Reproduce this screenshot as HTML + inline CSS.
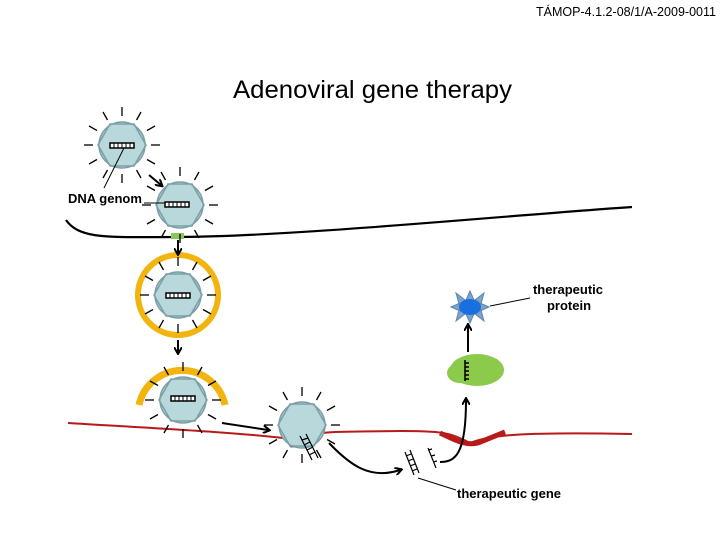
<!DOCTYPE html>
<html><head><meta charset="utf-8"><style>
body{margin:0;background:#fff}
svg{display:block}
text{font-family:"Liberation Sans",sans-serif}
</style></head><body>
<svg width="720" height="540" viewBox="0 0 720 540" xmlns="http://www.w3.org/2000/svg">
<defs>
<g id="v">
 <g stroke="#000" stroke-width="1.3">
  <line x1="0" y1="-29" x2="0" y2="-38"/><line x1="0" y1="29" x2="0" y2="38"/>
  <line x1="-29" y1="0" x2="-38" y2="0"/><line x1="29" y1="0" x2="38" y2="0"/>
  <line x1="14.5" y1="-25" x2="19" y2="-33"/><line x1="-14.5" y1="-25" x2="-19" y2="-33"/>
  <line x1="14.5" y1="25" x2="19" y2="33"/><line x1="-14.5" y1="25" x2="-19" y2="33"/>
  <line x1="25" y1="-14.5" x2="33" y2="-19"/><line x1="-25" y1="-14.5" x2="-33" y2="-19"/>
  <line x1="25" y1="14.5" x2="33" y2="19"/><line x1="-25" y1="14.5" x2="-33" y2="19"/>
 </g>
 <circle r="23" fill="#b8d8dc" stroke="#7a9fa6" stroke-width="1.5"/>
 <polygon points="-24,0 -12,-21 12,-21 24,0 12,21 -12,21" fill="#b8d8dc" fill-opacity="0.5" stroke="#7a9fa6" stroke-width="1.5"/>
</g>
<g id="d">
 <rect x="-12" y="-3" width="24" height="5" fill="#fff" stroke="#000" stroke-width="1.5"/>
 <g stroke="#000" stroke-width="1"><line x1="-8" y1="-3" x2="-8" y2="2"/><line x1="-4" y1="-3" x2="-4" y2="2"/><line x1="0" y1="-3" x2="0" y2="2"/><line x1="4" y1="-3" x2="4" y2="2"/><line x1="8" y1="-3" x2="8" y2="2"/></g>
</g>
<marker id="a" markerWidth="8" markerHeight="8" refX="5" refY="4" orient="auto" markerUnits="userSpaceOnUse"><path d="M0,0 L7,4 L0,8" fill="none" stroke="#000" stroke-width="2"/></marker>
</defs>

<text x="536" y="16" font-size="12.5" textLength="180" lengthAdjust="spacingAndGlyphs">TÁMOP-4.1.2-08/1/A-2009-0011</text>
<text x="233" y="98" font-size="25" textLength="279" lengthAdjust="spacingAndGlyphs">Adenoviral gene therapy</text>

<path d="M66,220 C80,240 110,237 180,237 C300,236 500,216 632,207" fill="none" stroke="#000" stroke-width="2.2"/>
<rect x="171" y="233" width="13" height="6" fill="#8cc460"/>

<path d="M68,423 C150,428 250,433 300,440 C320,430 330,432 400,431 C440,431 450,432 470,443 C490,435 520,432 632,434" fill="none" stroke="#b81a1a" stroke-width="2"/>
<path d="M290,445 C305,446 315,440 322,432" fill="none" stroke="#b81a1a" stroke-width="4.5"/>
<path d="M440,433 C455,440 465,446 478,443 C490,438 500,434 505,432" fill="none" stroke="#b81a1a" stroke-width="5"/>

<use href="#v" x="122" y="145"/><use href="#d" x="122" y="146"/>
<use href="#v" x="180" y="205"/><use href="#d" x="177" y="205"/>
<circle cx="178" cy="295" r="40" fill="none" stroke="#f2b40f" stroke-width="6"/>
<use href="#v" x="178" y="295"/><use href="#d" x="178" y="296"/>
<path d="M139,405 A44,44 0 0 1 225,405" fill="none" stroke="#f2b40f" stroke-width="7"/>
<use href="#v" x="183" y="400"/><use href="#d" x="183" y="399"/>
<use href="#v" x="302" y="425"/>

<text x="68" y="203" font-size="13" font-weight="bold">DNA genom</text>
<line x1="144" y1="203" x2="166" y2="203" stroke="#000" stroke-width="1"/>
<line x1="104" y1="188" x2="124" y2="148" stroke="#000" stroke-width="1"/>

<g stroke="#000" stroke-width="2" fill="none" marker-end="url(#a)">
<line x1="149" y1="175" x2="161" y2="185"/>
<line x1="178" y1="240" x2="178" y2="253"/>
<line x1="178" y1="340" x2="178" y2="352"/>
<line x1="222" y1="423" x2="268" y2="430"/>
<path d="M329,443 C350,465 370,480 400,470"/>
<path d="M440,462 C455,462 466,455 466,400"/>
<line x1="468" y1="352" x2="468" y2="326"/>
</g>

<g stroke="#000" stroke-width="1.2" fill="none">
<path d="M300,436 L312,460 M306,434 L318,458 M302,440 L308,438 M304,445 L310,442 M307,450 L313,447 M309,455 L315,452"/>
<path d="M405,452 L414,475 M410,450 L419,473 M406,456 L411,454 M408,461 L413,459 M410,466 L415,464 M412,471 L417,469"/>
<path d="M428,448 L436,468 M428,450 L432,449 M431,456 L435,455 M433,462 L437,461"/>
</g>

<ellipse cx="477" cy="370" rx="27" ry="16" fill="#8cca4c"/>
<ellipse cx="460" cy="373" rx="13" ry="10" fill="#8cca4c"/>
<g stroke="#000" stroke-width="1.5"><line x1="465" y1="360" x2="465" y2="381"/><line x1="465" y1="363" x2="469" y2="363"/><line x1="465" y1="367" x2="469" y2="367"/><line x1="465" y1="371" x2="469" y2="371"/><line x1="465" y1="375" x2="469" y2="375"/><line x1="465" y1="379" x2="469" y2="379"/></g>

<g fill="#7da3c8" stroke="#5b86b0" stroke-width="1">
<polygon points="470,291 474,300 466,300"/><polygon points="470,323 474,314 466,314"/>
<polygon points="451,307 460,303 460,311"/><polygon points="489,307 480,303 480,311"/>
<polygon points="456,293 465,300 459,304"/><polygon points="484,293 475,300 481,304"/>
<polygon points="456,321 465,314 459,310"/><polygon points="484,321 475,314 481,310"/>
</g>
<ellipse cx="470" cy="307" rx="11" ry="8" fill="#1a6fe0"/>
<line x1="490" y1="306" x2="530" y2="298" stroke="#000" stroke-width="1"/>
<text x="568" y="294" font-size="13" font-weight="bold" text-anchor="middle">therapeutic</text>
<text x="569" y="310" font-size="13" font-weight="bold" text-anchor="middle">protein</text>

<line x1="418" y1="478" x2="456" y2="490" stroke="#000" stroke-width="1"/>
<text x="457" y="498" font-size="13" font-weight="bold">therapeutic gene</text>
</svg>
</body></html>
